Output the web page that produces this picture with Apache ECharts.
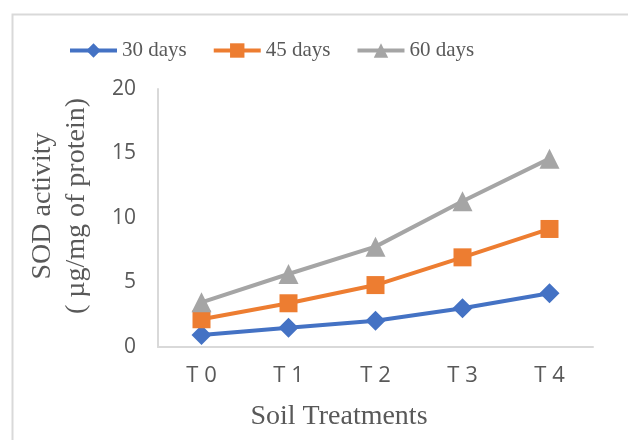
<!DOCTYPE html>
<html><head><meta charset="utf-8">
<script src="https://cdn.jsdelivr.net/npm/echarts@6/dist/echarts.min.js"></script>
<style>html,body{margin:0;padding:0;background:#fff}#c{width:628px;height:440px}</style>
</head><body><div id="c"></div>
<script>
const categories = ['T0','T1','T2','T3','T4'];
const days30 = [0.93, 1.5, 2.04, 3.0, 4.16];
const days45 = [2.15, 3.39, 4.8, 6.95, 9.15];
const days60 = [3.46, 5.66, 7.78, 11.3, 14.6];
const yTicks = [0, 5, 10, 15, 20];
const xTitle = 'Soil Treatments';
const yTitle = ['SOD activity', '( µg/mg of protein)'];

const chart = echarts.init(document.getElementById('c'));
const serif = '"Liberation Serif","Times New Roman",serif';
const sans = '"Open Sans","Liberation Sans",sans-serif';
function mk(name, data, color, symbol, size){
  return {name, type:'line', data, symbol, symbolSize:size,
    lineStyle:{color, width:4}, itemStyle:{color}, animation:false};
}
chart.setOption({
  animation:false,
  graphic:[
    {type:'rect', left:10, top:12, shape:{width:700, height:500}, style:{fill:'none', stroke:'#d9d9d9', lineWidth:2}, z:-1},
    {type:'text', x:43, y:206, rotation:Math.PI/2, style:{text:yTitle[0], font:'28px '+serif, fill:'#595959', align:'center', verticalAlign:'middle'}},
    {type:'text', x:77, y:206, rotation:Math.PI/2, style:{text:yTitle[1], font:'28px '+serif, fill:'#595959', align:'center', verticalAlign:'middle'}},
    {type:'text', x:339, y:417, style:{text:xTitle, font:'28px '+serif, fill:'#595959', align:'center', verticalAlign:'middle'}}
  ],
  legend:{left:68, top:40, padding:0, itemWidth:47, itemHeight:18, itemGap:25,
    lineStyle:{width:4},
    textStyle:{fontFamily:serif, fontSize:21, color:'#595959'},
    data:['30 days','45 days','60 days']},
  grid:{left:158, right:35, top:89, bottom:93, containLabel:false, outerBoundsMode:'none'},
  xAxis:{type:'category', data:categories, boundaryGap:true,
    axisLine:{lineStyle:{color:'#d9d9d9', width:2}}, axisTick:{show:false},
    axisLabel:{color:'#595959', fontSize:22, fontFamily:sans, margin:18,
      formatter: v => v.charAt(0)+' '+v.slice(1)}},
  yAxis:{type:'value', min:yTicks[0], max:yTicks[yTicks.length-1], interval:5,
    axisLine:{show:true, lineStyle:{color:'#d9d9d9', width:2}}, axisTick:{show:false},
    splitLine:{show:false},
    axisLabel:{color:'#595959', fontSize:21, fontFamily:sans, margin:22}},
  series:[
    mk('30 days', days30, '#4472C4', 'diamond', 20),
    mk('45 days', days45, '#ED7D31', 'rect', 18),
    mk('60 days', days60, '#A5A5A5', 'triangle', 20)
  ]
});
</script></body></html>
